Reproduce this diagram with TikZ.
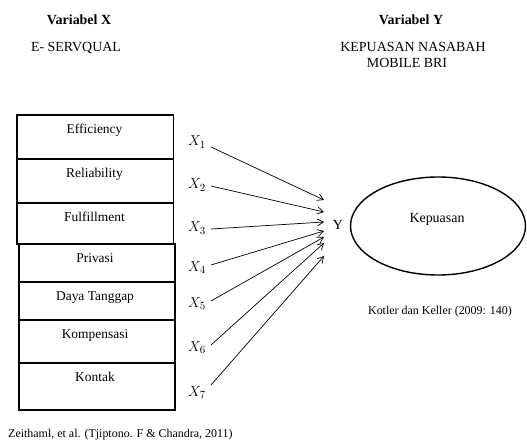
\documentclass[tikz,border=0pt]{standalone}
\usepackage{fontspec}
\setmainfont{Liberation Serif}
\usetikzlibrary{arrows.meta,shapes.geometric}
\begin{document}
\begin{tikzpicture}[x=1bp,y=-1bp,
  boxst/.style={draw,line width=1.8bp,anchor=north west,inner sep=0pt},
  boxtxt/.style={anchor=base,font=\fontsize{13.5}{15}\selectfont,inner sep=0pt},
  xlab/.style={anchor=base west,font=\fontsize{15}{17}\selectfont,inner sep=0pt},
  arr/.style={-{Straight Barb[length=6bp,width=7bp]},line width=0.7bp},
  hdr/.style={font=\fontsize{14}{16}\selectfont,anchor=base,inner sep=0pt}]
\useasboundingbox (0,0) rectangle (527,441);
% headers
\node[hdr,font=\fontsize{14}{16}\selectfont\bfseries] (hx) at (79,25) {Variabel X};
\node[hdr] (hx2) at (76,52) {E- SERVQUAL};
\node[hdr,font=\fontsize{14}{16}\selectfont\bfseries] (hy) at (411,25) {Variabel Y};
\node[hdr] (hy2) at (413,52) {KEPUASAN NASABAH};
\node[hdr] (hy3) at (407,68) {MOBILE BRI};
% boxes
\node[boxst,minimum width=156.5bp,minimum height=44bp] (b1) at (16,114) {};
\node[boxst,minimum width=156.5bp,minimum height=44bp] (b2) at (16,158) {};
\node[boxst,minimum width=156.5bp,minimum height=41bp] (b3) at (16,202) {};
\node[boxst,minimum width=156bp,minimum height=38bp] (b4) at (18,243) {};
\node[boxst,minimum width=156bp,minimum height=38bp] (b5) at (18,281) {};
\node[boxst,minimum width=156bp,minimum height=43bp] (b6) at (18,319) {};
\node[boxst,minimum width=156bp,minimum height=47bp] (b7) at (18,362) {};
\node[boxtxt] (t1) at (94.5,133.5) {Efficiency};
\node[boxtxt] (t2) at (94.5,177.5) {Reliability};
\node[boxtxt] (t3) at (94.5,221.5) {Fulfillment};
\node[boxtxt] (t4) at (95,262.5) {Privasi};
\node[boxtxt] (t5) at (95,300.5) {Daya Tanggap};
\node[boxtxt] (t6) at (95,338.5) {Kompensasi};
\node[boxtxt] (t7) at (95,381.5) {Kontak};
% X labels
\node[xlab] (x1) at (188,146) {$X_1$};
\node[xlab] (x2) at (188,189) {$X_2$};
\node[xlab] (x3) at (188,232) {$X_3$};
\node[xlab] (x4) at (188,271) {$X_4$};
\node[xlab] (x5) at (188,307) {$X_5$};
\node[xlab] (x6) at (188,351) {$X_6$};
\node[xlab] (x7) at (188,396) {$X_7$};
% arrow endpoints
\coordinate (s1) at (211,147);
\coordinate (s2) at (211,186);
\coordinate (s3) at (211,229);
\coordinate (s4) at (211,265);
\coordinate (s5) at (211,301);
\coordinate (s6) at (211,345);
\coordinate (s7) at (211,385);
\coordinate (e1) at (324,200);
\coordinate (e2) at (324,212);
\coordinate (e3) at (324,222);
\coordinate (e4) at (324,231);
\coordinate (e5) at (324,237);
\coordinate (e6) at (324,243);
\coordinate (e7) at (324,256);
\foreach \i in {1,...,7} \draw[arr] (s\i) -- (e\i);
% Y
\node[hdr] (ylab) at (338,230) {Y};
\node[draw,ellipse,line width=1.4bp,minimum width=175bp,minimum height=98bp,inner sep=0pt] (ell) at (438,226) {};
\node[hdr] (kep) at (437,223) {Kepuasan};
\node[anchor=base,inner sep=0pt,font=\fontsize{12}{14}\selectfont] (kot) at (440,314) {Kotler dan Keller (2009: 140)};
\node[anchor=base west,inner sep=0pt,font=\fontsize{12}{14}\selectfont] (zei) at (8,437) {Zeithaml, et al. (Tjiptono. F \& Chandra, 2011)};
\end{tikzpicture}
\end{document}
